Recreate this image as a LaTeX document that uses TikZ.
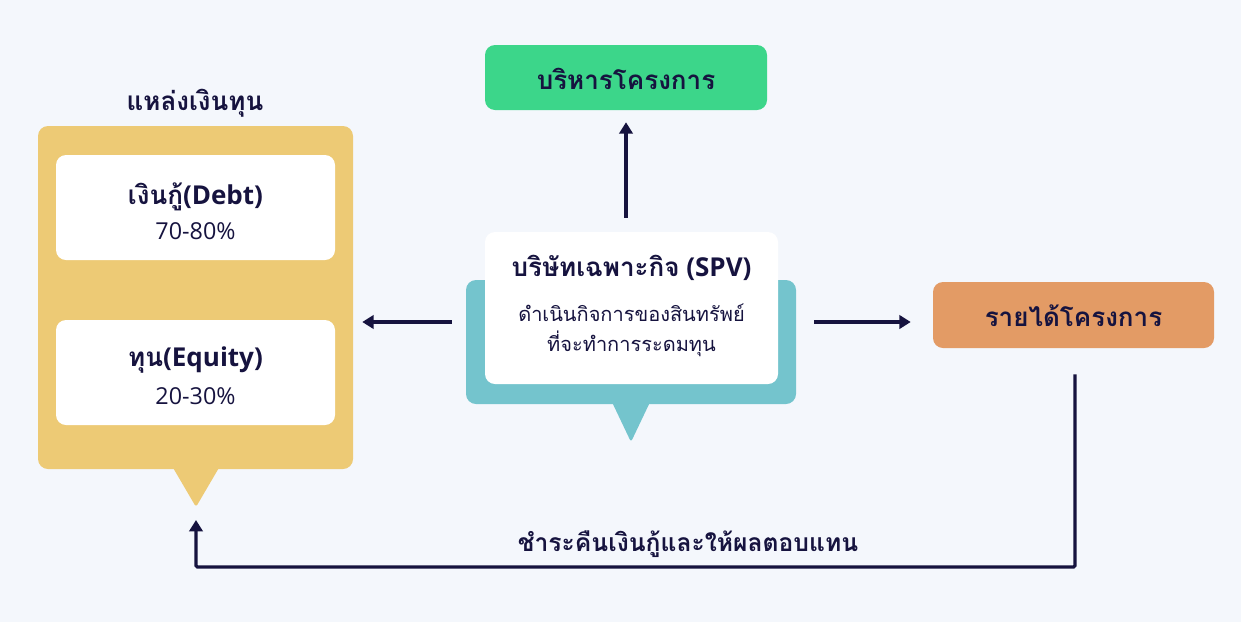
\documentclass[tikz,border=0pt]{standalone}
\usepackage{fontspec}
\setmainfont{Open Sans}
\newfontfamily\thai[Script=Thai]{Loma}
\newcommand\tht[1]{{\thai #1}}
\usetikzlibrary{arrows.meta}
\definecolor{bgc}{HTML}{F4F7FC}
\definecolor{navy}{HTML}{16133F}
\definecolor{yel}{HTML}{EDCA75}
\definecolor{grn}{HTML}{3CD68A}
\definecolor{teal2}{HTML}{74C4CD}
\definecolor{org}{HTML}{E39B65}
\tikzset{
  card/.style={rectangle, rounded corners=7.5pt, draw=none, inner sep=0pt},
  lbl/.style={text=navy, font=\bfseries\fontsize{19.5}{23}\selectfont, inner sep=0pt},
  sub/.style={text=navy, font=\fontsize{15}{18}\selectfont, inner sep=0pt},
  num/.style={text=navy, font=\fontsize{17.5}{21}\selectfont, inner sep=0pt},
  arr/.style={draw=navy, line width=2.4pt, -{Triangle[length=8.5pt,width=10pt]}}
}
\begin{document}
\begin{tikzpicture}[x=0.75pt,y=-0.75pt]
\fill[bgc] (0,0) rectangle (1241,622);
\useasboundingbox (0,0) rectangle (1241,622);

% funding source
\node[lbl] (title) at (195,103) {\tht{แหล่งเงินทุน}};
\fill[yel, rounded corners=2pt] (172,466) -- (196,507) -- (220,466) -- cycle;
\coordinate (ytip) at (196,507);
\node[card, fill=yel, minimum width=236.25pt, minimum height=257.25pt] (fund) at (195.5,297.5) {};
\node[card, fill=white, minimum width=209.25pt, minimum height=78.75pt] (debt) at (195.5,207.5) {};
\node[card, fill=white, minimum width=209.25pt, minimum height=78.75pt] (equity) at (195.5,372.5) {};
\node[lbl] (debtA) at (195.5,197) {\tht{เงินกู้}(Debt)};
\node[num] (debtB) at (195.5,231) {70-80\%};
\node[lbl] (eqA) at (195.5,360) {\tht{ทุน}(Equity)};
\node[num] (eqB) at (195.5,396) {20-30\%};

% manage
\node[card, fill=grn, minimum width=211.5pt, minimum height=48.75pt] (manage) at (626,77.5) {};
\node[lbl] (manageT) at (626,79) {\tht{บริหารโครงการ}};

% SPV
\fill[teal2, rounded corners=2pt] (611,400) -- (631,442) -- (651,400) -- cycle;
\node[card, fill=teal2, minimum width=247.5pt, minimum height=93pt] (spvbg) at (631,342) {};
\node[card, fill=white, minimum width=219.75pt, minimum height=114pt] (spv) at (631.5,308) {};
\node[lbl] (spvA) at (631.5,268) {\tht{บริษัทเฉพาะกิจ} (SPV)};
\node[sub] (spvB) at (631.5,313) {\tht{ดำเนินกิจการของสินทรัพย์}};
\node[sub] (spvC) at (631.5,344) {\tht{ที่จะทำการระดมทุน}};

% revenue
\node[card, fill=org, minimum width=210.75pt, minimum height=49.5pt] (rev) at (1073.5,315) {};
\node[lbl] (revT) at (1073.5,316) {\tht{รายได้โครงการ}};

% connectors
\coordinate (ly) at (0,322);
\coordinate (bot) at (0,567);
\draw[arr, shorten <=10.5pt, shorten >=9pt] (manage.south |- spv.north) -- (manage.south);
\draw[arr, shorten <=10.5pt, shorten >=6.75pt] (spvbg.west |- ly) -- (fund.east |- ly);
\draw[arr, shorten <=13.5pt, shorten >=16.5pt] (spvbg.east |- ly) -- (rev.west |- ly);
\draw[arr, shorten <=19.5pt, shorten >=9.75pt, rounded corners=1pt]
  ([xshift=1.1pt]rev.south) -- ([xshift=1.1pt]rev.south |- bot) -- (ytip |- bot) -- (ytip);
\node[lbl, font=\bfseries\fontsize{18.5}{22}\selectfont] (payT) at (688,544) {\tht{ชำระคืนเงินกู้และให้ผลตอบแทน}};
\end{tikzpicture}
\end{document}
